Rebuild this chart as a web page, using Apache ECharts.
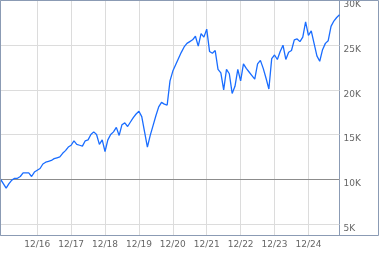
<!DOCTYPE html>
<html>
<head>
<meta charset="utf-8">
<script src="https://cdn.jsdelivr.net/npm/echarts@6/dist/echarts.min.js"></script>
<style>
html,body{margin:0;padding:0;background:#fff;}
#c{width:379px;height:255px;}
</style>
</head>
<body>
<div id="c"></div>
<script>
// Monthly points from 11/15 through 11/25
var startYear = 2015, startMonth = 11, monthCount = 121;
var categories = [];
for (var k = 0; k < monthCount; k++) {
  var m = (startMonth - 1 + k) % 12 + 1;
  var y = startYear + Math.floor((startMonth - 1 + k) / 12);
  categories.push((m < 10 ? '0' + m : '' + m) + '/' + String(y).slice(2));
}
// x tick labels shown (December of each year)
var xTickLabels = ['12/16','12/17','12/18','12/19','12/20','12/21','12/22','12/23','12/24'];
// growth of 10K values (in thousands)
var valuesK = [
  10.0, 9.5, 9.0, 9.5, 9.9, 10.1, 10.1, 10.3, 10.7, 10.7,
  10.7, 10.3, 10.8, 11.0, 11.2, 11.7, 11.9, 12.0, 12.1, 12.3,
  12.4, 12.5, 12.9, 13.2, 13.6, 13.8, 14.3, 13.9, 13.8, 13.7,
  14.3, 14.4, 15.0, 15.3, 15.0, 13.9, 14.4, 13.1, 14.4, 15.0,
  15.3, 15.8, 14.9, 16.1, 16.3, 15.9, 16.4, 16.9, 17.3, 17.6,
  17.0, 15.3, 13.6, 14.9, 16.0, 17.1, 18.1, 18.6, 18.4, 18.3,
  21.0, 22.1, 22.8, 23.5, 24.2, 24.8, 25.2, 25.4, 25.6, 26.0,
  24.9, 26.3, 25.9, 26.8, 24.3, 24.1, 24.4, 22.3, 21.9, 20.0,
  22.3, 21.8, 19.6, 20.4, 22.3, 21.0, 22.9, 22.4, 22.0, 21.6,
  21.2, 22.9, 23.3, 22.4, 21.3, 20.1, 23.5, 23.9, 23.4, 24.3,
  25.0, 23.4, 24.2, 24.4, 25.6, 25.7, 25.4, 25.9, 27.6, 26.1,
  26.6, 25.2, 23.8, 23.2, 24.5, 25.2, 25.5, 27.1, 27.7, 28.1,
  28.4
];
var baseline = 10000;
var yTickValues = [5000, 10000, 15000, 20000, 25000, 30000];

var values = valuesK.map(function (v) { return Math.round(v * 1000); });
var borderColor = '#8b9bb4';
var labelFont = { fontFamily: 'DejaVu Sans', fontSize: 9, color: '#666' };

var chart = echarts.init(document.getElementById('c'), null, { renderer: 'canvas' });
chart.setOption({
  animation: false,
  backgroundColor: '#fff',
  grid: {
    left: 0.5, top: 0.5, right: 39.5, bottom: 19.5,
    show: true, borderColor: borderColor, borderWidth: 1, backgroundColor: 'transparent'
  },
  graphic: [{
    type: 'rect', silent: true, z: 100,
    shape: { x: 0.5, y: 0.5, width: 378, height: 235 },
    style: { fill: 'none', stroke: borderColor, lineWidth: 1 }
  }],
  xAxis: {
    type: 'category',
    data: categories,
    boundaryGap: false,
    axisLine: { show: false },
    axisTick: { show: false },
    axisLabel: Object.assign({
      margin: 5,
      interval: function (i, v) { return xTickLabels.indexOf(v) >= 0; }
    }, labelFont),
    splitLine: {
      show: true,
      interval: function (i, v) { return xTickLabels.indexOf(v) >= 0; },
      lineStyle: { color: '#dcdcdc', width: 1 }
    }
  },
  yAxis: {
    type: 'value',
    position: 'right',
    min: 3700,
    max: 30000,
    splitNumber: 5,
    axisLine: { show: false },
    axisTick: { show: false },
    axisLabel: Object.assign({
      margin: 4,
      align: 'left',
      verticalAlign: 'top',
      showMinLabel: false,
      formatter: function (v) {
        return yTickValues.indexOf(v) >= 0 ? (v / 1000) + 'K' : '';
      }
    }, labelFont),
    splitLine: { show: true, lineStyle: { color: '#dcdcdc', width: 1 } }
  },
  series: [{
    type: 'line',
    data: values,
    showSymbol: false,
    symbol: 'none',
    lineStyle: { color: '#1a6dff', width: 1.3 },
    z: 3,
    markLine: {
      silent: true,
      symbol: ['none', 'none'],
      label: { show: false },
      lineStyle: { color: '#8c8c8c', type: 'solid', width: 1 },
      data: [{ yAxis: baseline }],
      z: 2
    }
  }]
});
</script>
</body>
</html>
